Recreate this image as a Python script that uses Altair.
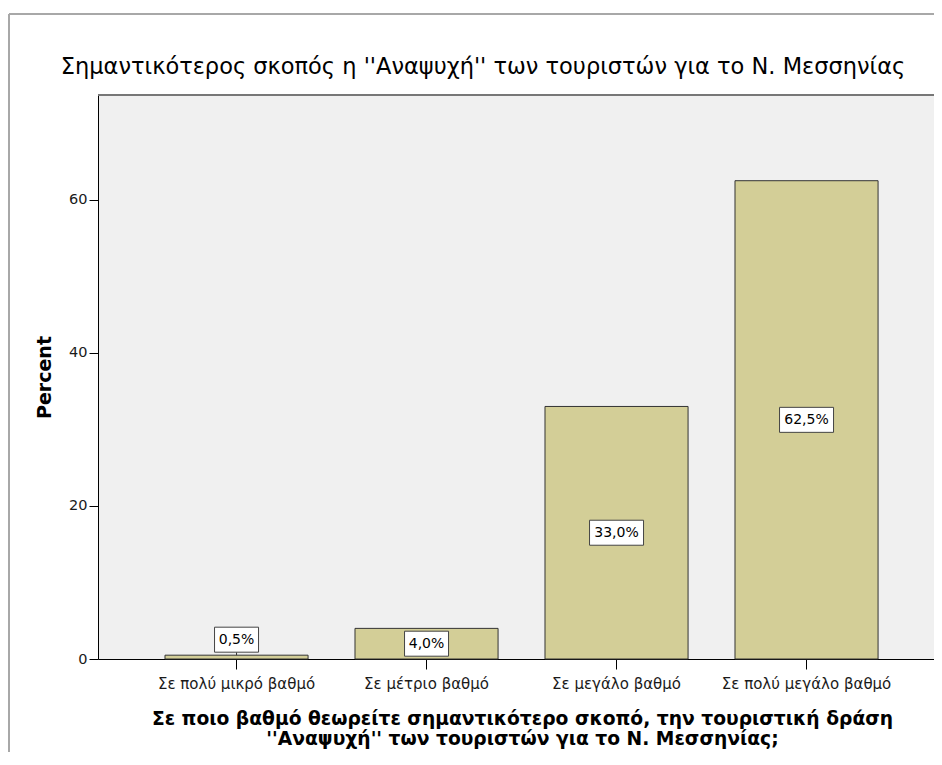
import altair as alt
import pandas as pd

categories = ["Σε πολύ μικρό βαθμό", "Σε μέτριο βαθμό", "Σε μεγάλο βαθμό", "Σε πολύ μεγάλο βαθμό"]
percent = [0.5, 4.0, 33.0, 62.5]
y_ticks = [0, 20, 40, 60]
title_text = "Σημαντικότερος σκοπός η ''Αναψυχή'' των τουριστών για το Ν. Μεσσηνίας"
x_title = ["Σε ποιο βαθμό θεωρείτε σημαντικότερο σκοπό, την τουριστική δράση",
           "''Αναψυχή'' των τουριστών για το Ν. Μεσσηνίας;"]

W, H = 836, 564
Y_MAX = 73.7
px_per_unit = H / Y_MAX
box_h = 25 / px_per_unit

rows = []
for c, v in zip(categories, percent):
    label = f"{v:.1f}%".replace(".", ",")
    if v >= box_h:
        mid = max(v / 2, box_h / 2)
        outside = False
    else:
        mid = v + 3 / px_per_unit + box_h / 2
        outside = True
    rows.append(dict(cat=c, pct=v, label=label, mid=mid,
                     lo=mid - box_h / 2, hi=mid + box_h / 2,
                     bw=4 + 10 * len(label), outside=outside))
df = pd.DataFrame(rows)

FONT = "DejaVu Sans"

xscale = alt.Scale(domain=categories, paddingInner=0.247, paddingOuter=0.3235, align=0.545)
yscale = alt.Scale(domain=[0, Y_MAX], nice=False, zero=True)

base = alt.Chart(df)

bars = base.mark_bar(fill="#D3CE97", stroke="#333333", strokeWidth=1).encode(
    x=alt.X("cat:N", scale=xscale, sort=categories,
            axis=alt.Axis(title=x_title, labelAngle=0, domainColor="#000000", domainWidth=1,
                          tickColor="#000000", tickSize=10, labelPadding=7, labelFontSize=15,
                          labelColor="#1A1A1A", labelFont=FONT, titleFont=FONT, titleFontSize=18.7,
                          titleFontWeight="bold", titleColor="#000000", titlePadding=18,
                          titleX=424, titleLineHeight=20)),
    y=alt.Y("pct:Q", scale=yscale,
            axis=alt.Axis(title="Percent", values=y_ticks, grid=False, domainColor="#000000",
                          domainWidth=1, tickColor="#000000", tickSize=9, labelPadding=2,
                          labelFontSize=14.5, labelColor="#1A1A1A", labelFont=FONT, titleFont=FONT,
                          titleFontSize=19, titleFontWeight="bold", titleColor="#000000",
                          titlePadding=14)),
)

leader = base.transform_filter("datum.outside").mark_rule(color="#333333", strokeWidth=1).encode(
    x=alt.X("cat:N", scale=xscale, sort=categories),
    y=alt.Y("pct:Q"),
    y2="lo:Q",
)

boxes = base.mark_bar(fill="#FFFFFF", stroke="#444444", strokeWidth=1).encode(
    x=alt.X("cat:N", scale=xscale, sort=categories),
    y=alt.Y("lo:Q"),
    y2="hi:Q",
    size=alt.Size("bw:Q", scale=None, legend=None),
)

texts = base.mark_text(fontSize=14, font=FONT, color="#000000", baseline="middle").encode(
    x=alt.X("cat:N", scale=xscale, sort=categories),
    y=alt.Y("mid:Q"),
    text="label:N",
)

deco = alt.Chart(pd.DataFrame({"k": [0]}))
top_border = deco.mark_rule(color="#777777", strokeWidth=2).encode(
    x=alt.value(0), x2=alt.value(W + 20), y=alt.value(0))
frame_left = deco.mark_rule(color="#A8A8A8", strokeWidth=2).encode(
    x=alt.value(-89), y=alt.value(-81), y2=alt.value(H + 200))
frame_top = deco.mark_rule(color="#A8A8A8", strokeWidth=2).encode(
    x=alt.value(-89), x2=alt.value(W + 20), y=alt.value(-81))

chart = alt.layer(bars, leader, boxes, texts, top_border, frame_left, frame_top).properties(
    width=W, height=H,
    title=alt.TitleParams(title_text, font=FONT, fontSize=22.5, fontWeight="normal", color="#000000",
                          anchor="middle", frame="group", dx=-33, dy=81, offset=16),
    autosize=alt.AutoSizeParams(type="none"),
    padding={"left": 90, "top": 87, "right": 0, "bottom": 93},
).configure(background="#FFFFFF").configure_view(fill="#F0F0F0", stroke="transparent")

chart.save("out.html", embed_options={"renderer": "svg", "actions": False})
